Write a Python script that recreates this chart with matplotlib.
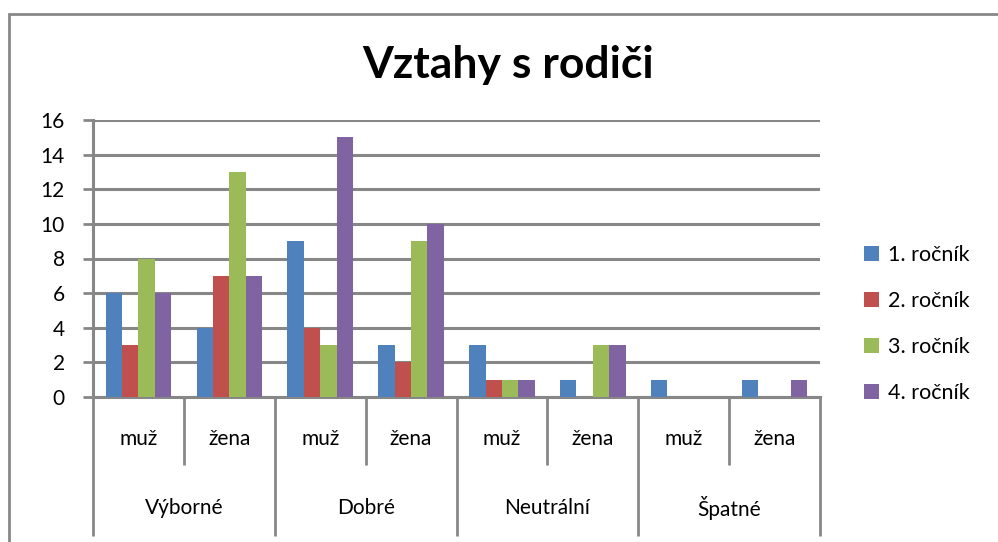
import numpy as np
import matplotlib
matplotlib.use("Agg")
import matplotlib.pyplot as plt
from matplotlib.patches import Rectangle, Patch
from matplotlib.ticker import FixedLocator, NullFormatter

plt.rcParams['font.family'] = ['Lato', 'DejaVu Sans']

# data
groups = ['Výborné', 'Dobré', 'Neutrální', 'Špatné']
genders = ['muž', 'žena']
series = ['1. ročník', '2. ročník', '3. ročník', '4. ročník']
rocnik_1 = [6, 4, 9, 3, 3, 1, 1, 1]
rocnik_2 = [3, 7, 4, 2, 1, 0, 0, 0]
rocnik_3 = [8, 13, 3, 9, 1, 3, 0, 0]
rocnik_4 = [6, 7, 15, 10, 1, 3, 0, 1]
colors = ['#4f81bd', '#c0504d', '#9bbb59', '#8064a2']
grid_gray = '#878787'

values = [rocnik_1, rocnik_2, rocnik_3, rocnik_4]
n_cat = len(groups) * len(genders)

W, H = 998, 542
fig = plt.figure(figsize=(W / 100, H / 100), dpi=100)

# chart area border (only top/left visible in reference)
fig.add_artist(Rectangle((9 / W, -0.1), 1.2, 1 - 14 / H + 0.1,
                         transform=fig.transFigure, fill=False,
                         edgecolor=grid_gray, linewidth=2))

ax = fig.add_axes([93 / W, 1 - 397 / H, (820 - 93) / W, (397 - 120) / H])

x = np.arange(n_cat)
bw = 0.18
for i, (vals, lab, col) in enumerate(zip(values, series, colors)):
    ax.bar(x + 0.5 + (i - 1.5) * bw, vals, width=bw, color=col, label=lab,
           zorder=3)

ax.set_xlim(0, n_cat)
ax.set_ylim(0, 16)
ax.set_yticks(range(0, 17, 2))
ax.yaxis.grid(True, color=grid_gray, linewidth=2.2, zorder=0)
ax.tick_params(axis='y', length=7.2, width=2, color=grid_gray, labelsize=15,
               pad=13)

for s in ['top', 'right']:
    ax.spines[s].set_visible(False)
for s in ['left', 'bottom']:
    ax.spines[s].set_color(grid_gray)
    ax.spines[s].set_linewidth(2.2)

# two-level category axis: long ticks between groups, short between genders
ax.xaxis.set_major_locator(FixedLocator(np.arange(0, n_cat + 1, len(genders))))
ax.xaxis.set_minor_locator(FixedLocator(np.arange(1, n_cat, len(genders))))
ax.xaxis.set_major_formatter(NullFormatter())
ax.tick_params(axis='x', which='major', length=100, width=2, color=grid_gray)
ax.tick_params(axis='x', which='minor', length=49, width=2, color=grid_gray)

for j in range(n_cat):
    ax.annotate(genders[j % len(genders)], xy=(j + 0.5, 0),
                xycoords=('data', 'axes fraction'), xytext=(0, -30),
                textcoords='offset points', ha='center', va='center',
                fontsize=15)
for g, name in enumerate(groups):
    ax.annotate(name, xy=(g * len(genders) + len(genders) / 2, 0),
                xycoords=('data', 'axes fraction'), xytext=(0, -80),
                textcoords='offset points', ha='center', va='center',
                fontsize=15)

fig.text(508 / W, 1 - 78 / H, 'Vztahy s rodiči', ha='center', va='baseline',
         fontsize=32, fontweight='bold')

handles = [Patch(facecolor=c, edgecolor='none') for c in colors]
fig.legend(handles, series, loc='upper left',
           bbox_to_anchor=(845 / W, 1 - 226 / H), frameon=False,
           fontsize=15.5, handlelength=0.7, handleheight=0.7,
           handletextpad=0.4, labelspacing=1.2)

fig.savefig('out.png', dpi=100)
